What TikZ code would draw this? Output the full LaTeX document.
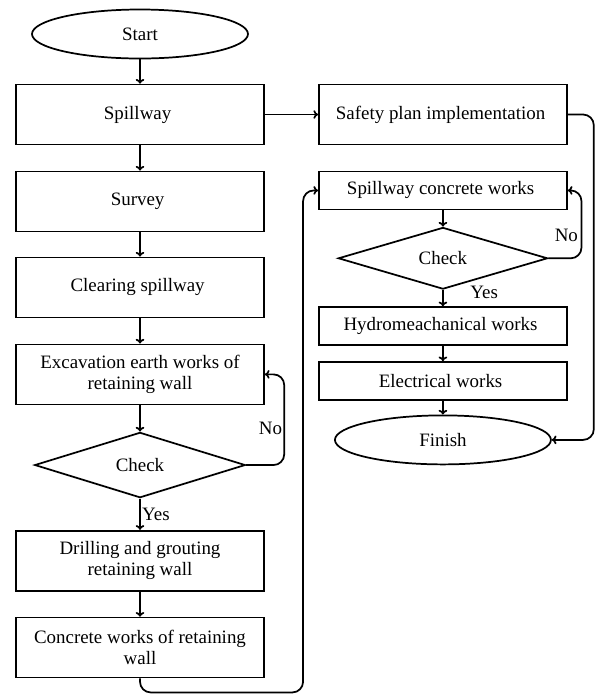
\documentclass[tikz,border=0pt]{standalone}
\usepackage{fontspec}
\setmainfont{Liberation Serif}
\usetikzlibrary{positioning, shapes.geometric, arrows.meta}

\begin{document}
\begin{tikzpicture}[font = \fontsize{14.2}{15.5}\selectfont, line width = 1.3pt,
    box/.style = { draw, align = center, minimum width = 186pt, minimum height = 45pt, inner sep = 2pt },
    flat/.style = { box, minimum height = 28.5pt },
    term/.style = { draw, ellipse, minimum width = 162pt, minimum height = 36.75pt, inner sep = 1pt },
    decision/.style = { draw, diamond, minimum width = 158pt, minimum height = 49pt, inner sep = 0pt },
    link/.style = { ->, >={To[length = 3.5pt, width = 6.5pt]} }]
    \useasboundingbox (-105pt, 25.5pt) rectangle (342.75pt, -495pt);

    % left column
    \node[term] (start) { Start };
    \node[box, below = 18.2pt of start] (spill) { Spillway };
    \node[box, below = 18.9pt of spill] (survey) { Survey };
    \node[box, below = 18.2pt of survey] (clear) { Clearing spillway };
    \node[box, below = 18.9pt of clear] (exc) { Excavation earth works of\\ retaining wall };
    \node[decision, below = 19.7pt of exc] (chk1) { Check };
    \node[box, below = 23.4pt of chk1] (drill) { Drilling and grouting\\ retaining wall };
    \node[box, below = 18.9pt of drill] (conc) { Concrete works of retaining\\ wall };

    % right column
    \node[box, right = 39.9pt of spill] (safety) { Safety plan implementation };
    \node[flat, below = 18.9pt of safety] (scw) { Spillway concrete works };
    \node[decision, below = 12.2pt of scw, minimum width = 157pt, minimum height = 44pt] (chk2) { Check };
    \node[flat, below = 12.2pt of chk2] (hydro) { Hydromeachanical works };
    \node[flat, below = 11.4pt of hydro] (elec) { Electrical works };
    \node[term, below = 10.2pt of elec] (finish) { Finish };

    \draw[link] (start) -- (spill);
    \draw[link] (spill) -- (survey);
    \draw[link] (survey) -- (clear);
    \draw[link] (clear) -- (exc);
    \draw[link] (exc) -- (chk1);
    \draw[link] (chk1) -- node[right, inner sep = 1pt] {Yes} (drill);
    \draw[link] (drill) -- (conc);
    \draw[link, rounded corners = 8pt] (chk1.east) -- ++(28.5pt, 0) |- node[pos = 0.2, left, inner sep = 1pt] {No} (exc.east);

    \draw[link] (spill) -- (safety);
    \draw[link, rounded corners = 8pt] (safety.east) -- ++(19.5pt, 0) |- (finish.east);
    \draw[link, rounded corners = 8pt] (conc.south) -- ++(0, -10.5pt) -| ([xshift = -11.25pt] scw.west) -- (scw.west);

    \draw[link] (scw) -- (chk2);
    \draw[link] (chk2) -- node[pos = 0.15, right = 20pt, inner sep = 0pt] {Yes} (hydro);
    \draw[link, rounded corners = 8pt] (chk2.east) -- ++(24.75pt, 0) |- node[pos = 0.17, left, inner sep = 2pt] {No} (scw.east);
    \draw[link] (hydro) -- (elec);
    \draw[link] (elec) -- (finish);
  \end{tikzpicture}
\end{document}
